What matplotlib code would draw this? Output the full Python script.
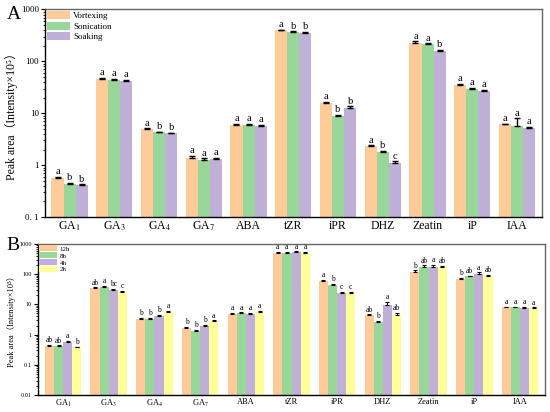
import matplotlib
matplotlib.use("Agg")
import matplotlib.pyplot as plt
import numpy as np
from matplotlib.ticker import FixedLocator, FixedFormatter, LogLocator, NullFormatter

plt.rcParams['font.family'] = ['Liberation Serif', 'Noto Sans CJK SC', 'DejaVu Sans']
plt.rcParams['mathtext.fontset'] = 'stix'

categories = ["GA$_1$", "GA$_3$", "GA$_4$", "GA$_7$", "ABA", "tZR", "iPR", "DHZ", "Zeatin", "iP", "IAA"]

# Panel A
a_series = ["Vortexing", "Sonication", "Soaking"]
a_vortex = [0.57, 46, 4.9, 1.40, 6.0, 395, 16.0, 2.3, 229, 34.5, 6.1]
a_sonic = [0.44, 44, 4.3, 1.26, 6.0, 365, 9.0, 1.78, 212, 29.0, 5.8]
a_soak = [0.41, 42, 4.1, 1.32, 5.8, 355, 12.5, 1.10, 158, 26.5, 5.2]
a_vortex_err = [0.03, 2.5, 0.2, 0.12, 0.2, 15, 0.8, 0.12, 15, 2.5, 0.2]
a_sonic_err = [0.02, 2.0, 0.15, 0.10, 0.2, 12, 0.4, 0.10, 10, 2.0, 2.2]
a_soak_err = [0.02, 2.0, 0.15, 0.08, 0.15, 12, 1.2, 0.08, 10, 1.5, 0.25]
a_letters = [["a", "b", "b"], ["a", "a", "a"], ["a", "b", "b"], ["a", "a", "a"], ["a", "a", "a"],
             ["a", "b", "b"], ["a", "b", "b"], ["a", "b", "c"], ["a", "a", "b"], ["a", "a", "a"],
             ["a", "a", "a"]]
a_yticks = [0.1, 1, 10, 100, 1000]
a_yticklabels = ["0. 1", "1", "10", "100", "1000"]

# Panel B
b_series = ["12h", "8h", "4h", "2h"]
b_12h = [0.43, 34, 3.3, 1.6, 4.9, 500, 60, 4.4, 120, 68, 7.9]
b_8h = [0.41, 38, 3.3, 1.3, 5.1, 500, 43, 2.6, 175, 84, 7.9]
b_4h = [0.55, 30, 4.1, 1.9, 4.9, 530, 24.5, 9.3, 175, 105, 7.7]
b_2h = [0.38, 26, 5.8, 2.8, 5.5, 500, 24.5, 4.6, 175, 86, 7.5]
b_12h_err = [0.03, 3, 0.2, 0.2, 0.3, 40, 5, 0.3, 12, 6, 0.5]
b_8h_err = [0.03, 3, 0.2, 0.15, 0.3, 40, 4, 0.3, 20, 5, 0.5]
b_4h_err = [0.06, 2.5, 0.3, 0.2, 0.3, 40, 2, 3.0, 25, 10, 0.5]
b_2h_err = [0.02, 2, 0.4, 0.2, 0.6, 40, 2, 0.6, 15, 8, 0.5]
b_letters = [["ab", "ab", "a", "b"], ["ab", "a", "bc", "c"], ["b", "b", "b", "a"], ["b", "b", "b", "a"],
             ["a", "a", "a", "a"], ["a", "a", "a", "a"], ["a", "b", "c", "c"], ["ab", "b", "a", "ab"],
             ["b", "ab", "a", "ab"], ["b", "ab", "a", "ab"], ["a", "a", "a", "a"]]
b_yticks = [0.01, 0.1, 1, 10, 100, 1000]
b_yticklabels = ["0.01", "0.1", "1", "10", "100", "1000"]

orange = "#FFCC99"
green = "#99D699"
purple = "#C0B0D8"
yellow = "#FFFF99"

fig = plt.figure(figsize=(5.5, 4.12), dpi=100)
axA = fig.add_axes([0.0818, 0.473, 0.903, 0.504])
axB = fig.add_axes([0.069, 0.041, 0.922, 0.367])


def draw(ax, series_vals, series_errs, names, colors, letters, width, fs_letter, capsize, lw):
    x = np.arange(len(categories))
    n = len(series_vals)
    for i, (vals, errs, name, col) in enumerate(zip(series_vals, series_errs, names, colors)):
        pos = x + (i - (n - 1) / 2) * width
        ax.bar(pos, vals, width=width, color=col, label=name, edgecolor='none', zorder=2)
        ax.errorbar(pos, vals, yerr=[np.zeros(len(vals)), errs], fmt='none', ecolor='black',
                    elinewidth=lw, capsize=capsize, capthick=lw, zorder=3)
        for j in range(len(vals)):
            ax.annotate(letters[j][i], (pos[j], vals[j] + errs[j]), xytext=(0, 0.5),
                        textcoords='offset points', ha='center', va='bottom', fontsize=fs_letter)
    ax.set_xticks(x)
    ax.set_xlim(-0.55, len(categories) - 0.45)


draw(axA, [a_vortex, a_sonic, a_soak], [a_vortex_err, a_sonic_err, a_soak_err], a_series,
     [orange, green, purple], a_letters, 0.27, 7.5, 2.2, 1.0)
draw(axB, [b_12h, b_8h, b_4h, b_2h], [b_12h_err, b_8h_err, b_4h_err, b_2h_err], b_series,
     [orange, green, purple, yellow], b_letters, 0.2, 5.5, 1.6, 0.8)

for ax, yt, ytl, ylim, fs_tick, fs_x, fs_lab in [
        (axA, a_yticks, a_yticklabels, (0.1, 1000), 6.5, 8.5, 8.5),
        (axB, b_yticks, b_yticklabels, (0.01, 1000), 4.5, 6, 6)]:
    ax.set_yscale('log')
    ax.set_ylim(*ylim)
    ax.yaxis.set_major_locator(FixedLocator(yt))
    ax.yaxis.set_major_formatter(FixedFormatter(ytl))
    ax.yaxis.set_minor_locator(LogLocator(base=10, subs=np.arange(2, 10)))
    ax.yaxis.set_minor_formatter(NullFormatter())
    ax.set_xticklabels(categories, fontsize=fs_x)
    ax.tick_params(axis='y', which='major', labelsize=fs_tick, direction='out', length=3, width=0.8, pad=1.5)
    ax.tick_params(axis='y', which='minor', direction='out', length=1.8, width=0.6)
    ax.tick_params(axis='x', length=0, pad=2)
    ax.set_ylabel("Peak area（Intensity×10⁵）", fontsize=fs_lab, labelpad=2)
    for s in ['left', 'bottom']:
        ax.spines[s].set_linewidth(1.0)
        ax.spines[s].set_color('black')
    for s in ['top', 'right']:
        ax.spines[s].set_linewidth(1.0)
        ax.spines[s].set_color('#666666')

legA = axA.legend(loc='upper left', frameon=False, fontsize=6.5, handlelength=2.6, handleheight=1.0,
                  labelspacing=0.15, borderaxespad=0.1, handletextpad=0.3, borderpad=0.1)
legB = axB.legend(loc='upper left', frameon=False, fontsize=5, handlelength=2.6, handleheight=0.9,
                  labelspacing=0.1, borderaxespad=0.1, handletextpad=0.3, borderpad=0.1)

fig.text(0.012, 0.965, "A", fontsize=14, ha='left', va='center')
fig.text(0.012, 0.405, "B", fontsize=14, ha='left', va='center')

fig.savefig("out.png", dpi=100)
